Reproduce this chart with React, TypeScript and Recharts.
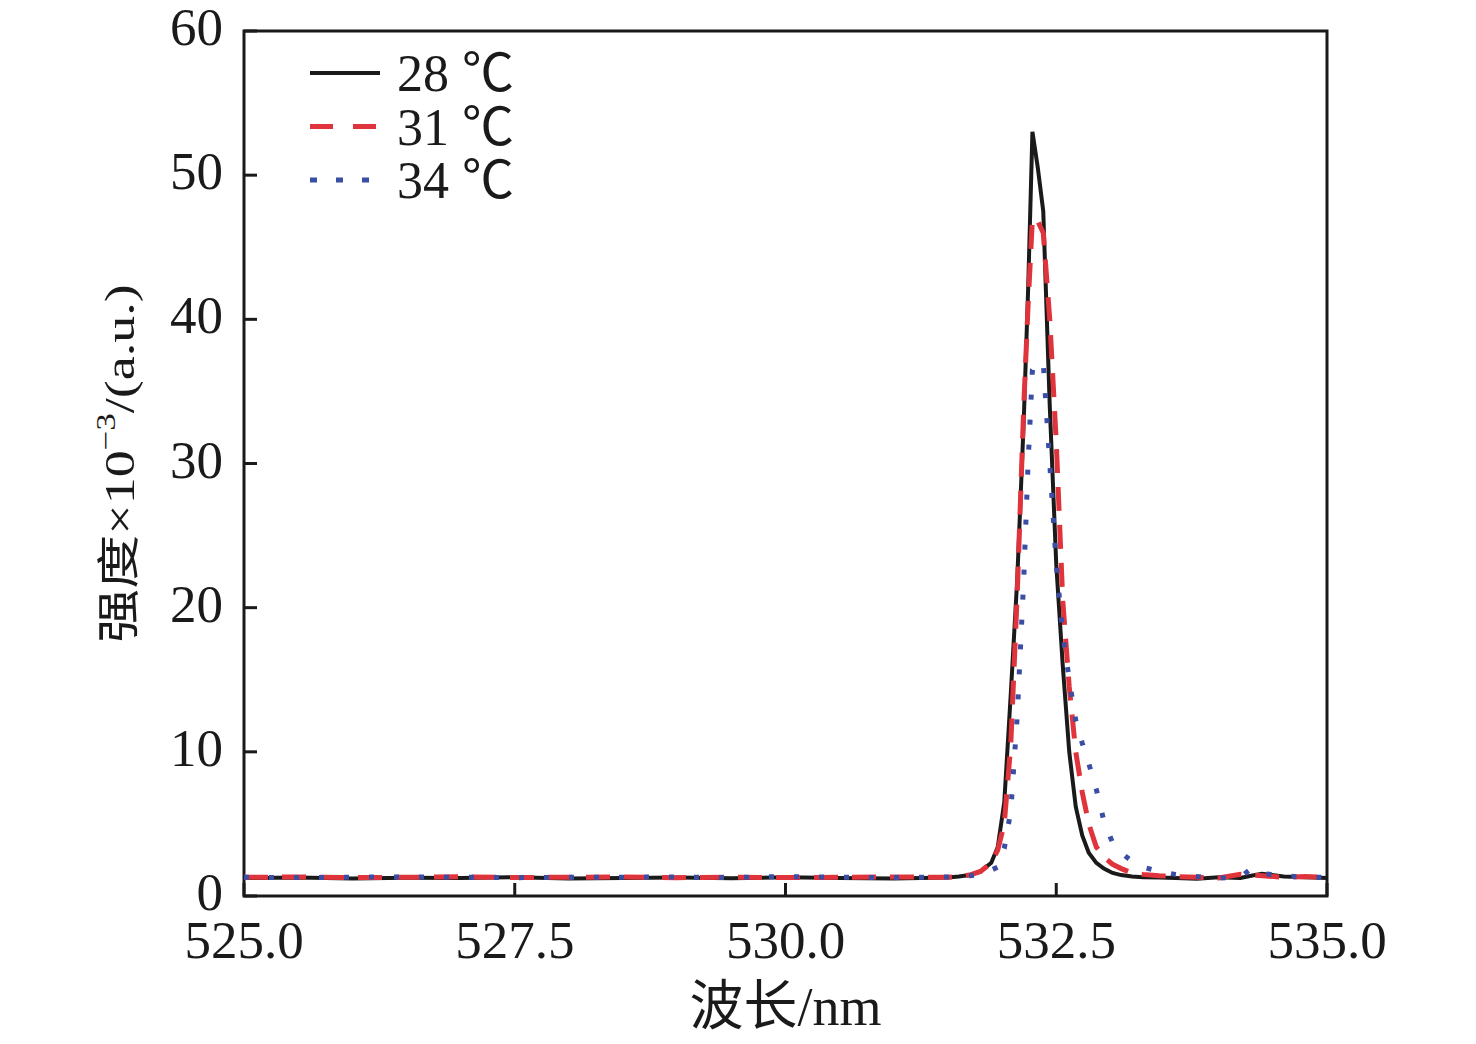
import React from 'react';
import { LineChart, Line, XAxis, YAxis, Legend, ReferenceArea } from 'recharts';

// wavelength grid (nm)
const wavelengths = [
  525, 525.5, 526, 526.5, 527, 527.5, 528, 528.5, 529, 529.5, 530, 530.5, 531, 531.5,
  531.6, 531.7, 531.8, 531.9, 531.96, 532.02, 532.08, 532.14, 532.2, 532.24,
  532.28, 532.33, 532.38, 532.44, 532.5, 532.56, 532.62, 532.68, 532.74, 532.8,
  532.87, 532.94, 533.02, 533.1, 533.2, 533.3, 533.45, 533.6,
  533.8, 534.0, 534.2, 534.3, 534.4, 534.6, 534.8, 535.0,
];

// intensity ×10^-3 (a.u.)
const int28 = [
  1.25, 1.28, 1.22, 1.26, 1.24, 1.3, 1.22, 1.25, 1.28, 1.23, 1.3, 1.25, 1.22, 1.28,
  1.35, 1.45, 1.7, 2.3, 3.4, 6.5, 14, 22, 33, 42,
  53, 50.5, 47.5, 34, 23, 16, 10, 6.2, 4.2, 3.0,
  2.3, 1.9, 1.6, 1.45, 1.35, 1.3, 1.28, 1.25,
  1.2, 1.3, 1.25, 1.4, 1.55, 1.35, 1.3, 1.25,
];
const int31 = [
  1.3, 1.32, 1.28, 1.3, 1.33, 1.28, 1.3, 1.32, 1.27, 1.3, 1.28, 1.3, 1.32, 1.3,
  1.35, 1.45, 1.7, 2.3, 3.2, 5.0, 10.5, 21, 34, 41,
  47, 46.8, 46, 40, 31.5, 20.5, 14.5, 10, 7.2, 5.0,
  3.4, 2.7, 2.2, 1.9, 1.6, 1.5, 1.4, 1.35,
  1.3, 1.25, 1.5, 1.45, 1.4, 1.3, 1.35, 1.3,
];
const int34 = [
  1.3, 1.28, 1.3, 1.33, 1.3, 1.27, 1.3, 1.3, 1.32, 1.28, 1.35, 1.3, 1.28, 1.32,
  1.35, 1.4, 1.5, 1.8, 2.0, 3.3, 5.9, 12.5, 22, 30,
  36.5, 37, 37, 30, 23, 18.2, 15, 12.2, 10.6, 9.2,
  7.4, 5.2, 3.7, 3.0, 2.4, 2.0, 1.7, 1.5,
  1.35, 1.25, 1.3, 1.9, 1.55, 1.4, 1.3, 1.3,
];

const seriesNames = ['28 ℃', '31 ℃', '34 ℃'];
const xTicks = [525, 527.5, 530, 532.5, 535];
const yTicks = [0, 10, 20, 30, 40, 50, 60];

const data = wavelengths.map((x, i) => ({ x, t28: int28[i], t31: int31[i], t34: int34[i] }));

const FONT = "'Liberation Serif', 'Times New Roman', 'Noto Sans CJK SC', serif";
const INK = '#1a1a1a';
const RED = '#e0343d';
const BLUE = '#3a4ea6';

const legendStyles = [
  { stroke: INK, width: 4, dash: undefined },
  { stroke: RED, width: 5, dash: '23 20' },
  { stroke: BLUE, width: 5, dash: '7 19' },
];

const XTick = (props: any) => {
  const { x, y, payload } = props;
  return (
    <g>
      <line x1={x} x2={x} y1={y} y2={y - 13} stroke={INK} strokeWidth={3} />
      <text x={x} y={y + 62} textAnchor="middle" fontSize={53} fontFamily={FONT} fill={INK}>
        {Number(payload.value).toFixed(1)}
      </text>
    </g>
  );
};

const YTick = (props: any) => {
  const { x, y, payload } = props;
  return (
    <g>
      <line x1={x} x2={x + 13} y1={y} y2={y} stroke={INK} strokeWidth={3} />
      <text x={x - 21} y={y + 14} textAnchor="end" fontSize={53} fontFamily={FONT} fill={INK}>
        {payload.value}
      </text>
    </g>
  );
};

const YLabel = (props: any) => {
  const vb = props.viewBox || {};
  const cx = vb.x + vb.width - 110;
  const cy = vb.y + vb.height / 2;
  return (
    <text
      transform={`translate(${cx},${cy}) rotate(-90) scale(1,0.8)`}
      textAnchor="middle"
      fontSize={54}
      fontFamily={FONT}
      fill={INK}
    >
      强度×10
      <tspan fontSize={35} dy={-24}>−3</tspan>
      <tspan dy={24}>/(a.u.)</tspan>
    </text>
  );
};

const XLabel = (props: any) => {
  const vb = props.viewBox || {};
  const cx = vb.x + vb.width / 2;
  return (
    <text x={cx} y={vb.y + 129} textAnchor="middle" fontSize={54} fontFamily={FONT} fill={INK}>
      波长/nm
    </text>
  );
};

const LegendContent = (props: any) => {
  const payload = props.payload || [];
  return (
    <svg width={260} height={175} style={{ display: 'block' }}>
      {payload.map((entry: any, i: number) => {
        const st = legendStyles[i] || legendStyles[0];
        const cy = 33 + i * 53.5;
        return (
          <g key={i}>
            <line
              x1={10}
              x2={80}
              y1={cy}
              y2={cy}
              stroke={entry.color || st.stroke}
              strokeWidth={st.width}
              strokeDasharray={st.dash}
            />
            <text x={97} y={cy + 18} fontSize={52} fontFamily={FONT} fill={INK}>
              {entry.value}
            </text>
          </g>
        );
      })}
    </svg>
  );
};

export default function App() {
  return (
    <LineChart
      width={1460}
      height={1028}
      data={data}
      margin={{ top: 23, right: 141, bottom: 40, left: 136 }}
      style={{ overflow: 'visible' }}
    >
      <XAxis
        dataKey="x"
        type="number"
        domain={[525, 535]}
        ticks={xTicks}
        interval={0}
        height={100}
        axisLine={false}
        tickLine={false}
        tickSize={0}
        tickMargin={0}
        tick={<XTick />}
        label={{ content: <XLabel /> }}
      />
      <YAxis
        type="number"
        domain={[0, 60]}
        ticks={yTicks}
        interval={0}
        width={100}
        axisLine={false}
        tickLine={false}
        tickSize={0}
        tickMargin={0}
        tick={<YTick />}
        label={{ content: <YLabel /> }}
      />
      <Legend
        layout="horizontal"
        verticalAlign="middle"
        align="center"
        wrapperStyle={{ position: 'absolute', left: 292, top: 32, width: 260, height: 175 }}
        content={<LegendContent />}
      />
      <Line
        name={seriesNames[0]}
        dataKey="t28"
        type="linear"
        stroke={INK}
        strokeWidth={4}
        dot={false}
        activeDot={false}
        isAnimationActive={false}
      />
      <Line
        name={seriesNames[1]}
        dataKey="t31"
        type="linear"
        stroke={RED}
        strokeWidth={5}
        strokeDasharray="24 14"
        dot={false}
        activeDot={false}
        isAnimationActive={false}
      />
      <Line
        name={seriesNames[2]}
        dataKey="t34"
        type="linear"
        stroke={BLUE}
        strokeWidth={5}
        strokeDasharray="5 20"
        dot={false}
        activeDot={false}
        isAnimationActive={false}
      />
      <ReferenceArea
        x1={525}
        x2={535}
        y1={0}
        y2={60}
        fill="none"
        fillOpacity={0}
        stroke={INK}
        strokeWidth={3}
        ifOverflow="visible"
      />
    </LineChart>
  );
}
